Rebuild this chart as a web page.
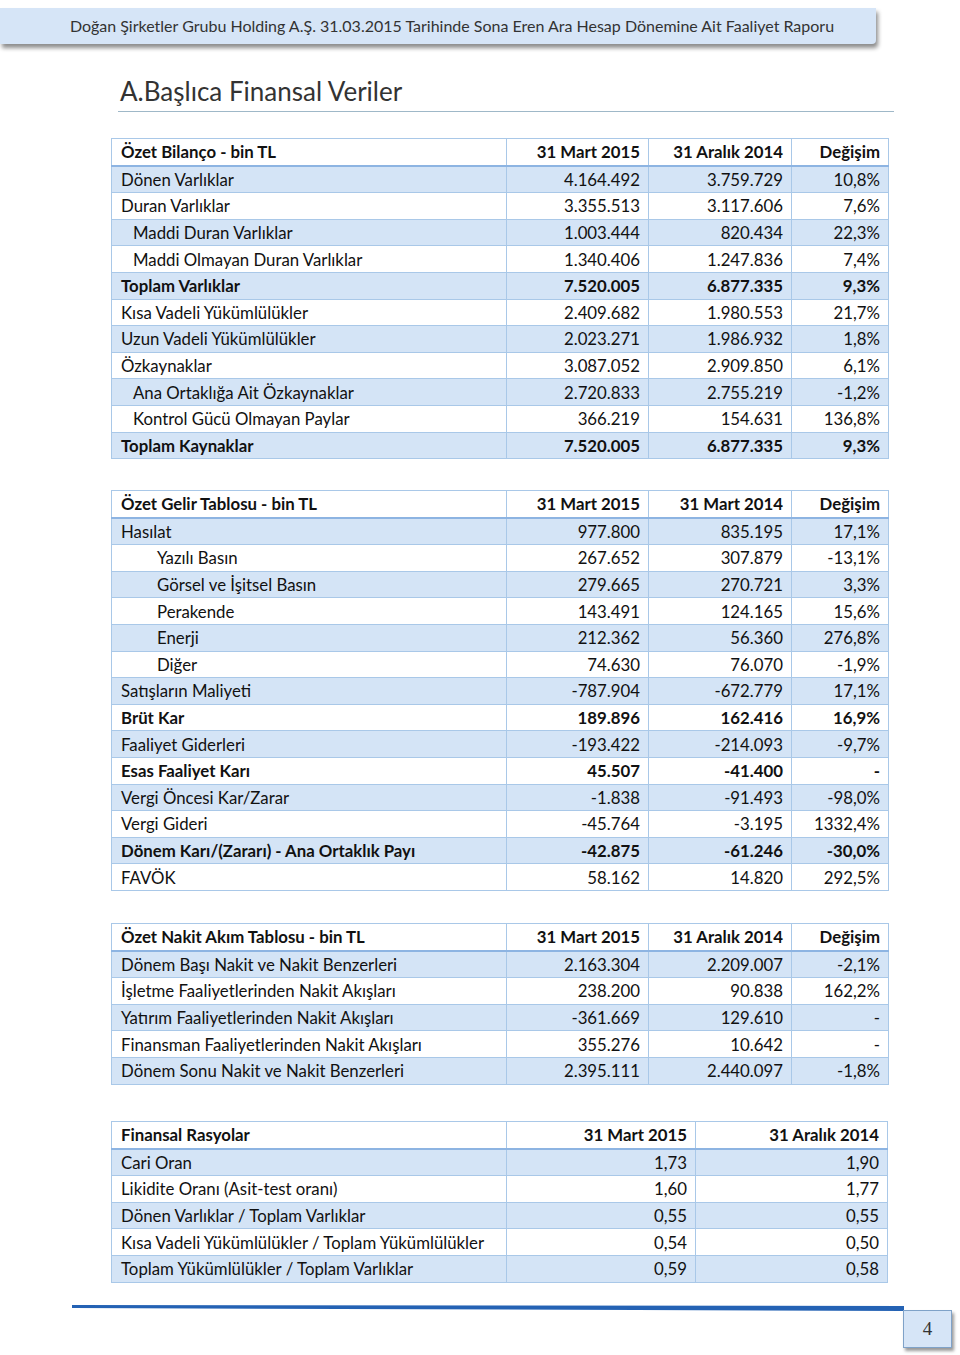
<!DOCTYPE html>
<html lang="tr">
<head>
<meta charset="UTF-8">
<title>Başlıca Finansal Veriler</title>
<script src="https://cdn.jsdelivr.net/npm/chart.js"></script>
<style>
  body { margin: 0; width: 960px; height: 1355px; background: #fff; font-family: Lato, "Open Sans", sans-serif; color: #111; position: relative; overflow: hidden; }
  .topbar { position: absolute; left: 0; top: 8px; width: 876px; height: 36px; background: #d6e5f7; box-shadow: 2px 4px 4px rgba(0,0,0,0.45); border-radius: 0 0 4px 0; text-align: center; line-height: 36px; font-size: 16px; color: #333; box-sizing: border-box; padding-left: 28px; }
  .title { position: absolute; left: 120px; top: 75px; font-size: 26px; color: #333; }
  .title-line { position: absolute; left: 118px; top: 111px; width: 776px; height: 1px; background: #9fb8c8; }
  table { position: absolute; left: 111px; border-collapse: collapse; font-size: 16.8px; }
  td { border: 1px solid #a9c8e8; height: 25.6px; padding: 0 8px 0 9px; white-space: nowrap; }
  tr.head td { font-weight: bold; background: #fff; border-bottom: 2px solid #8db4e2; }
  tr.shade td { background: #d4e4f6; }
  tr.bold td { font-weight: bold; }
  td.num { text-align: right; }
  .ind1 { padding-left: 21px; }
  .ind2 { padding-left: 45px; }
  .bottom-line { position: absolute; left: 72px; top: 1304px; width: 832px; height: 8px; background: #2462b4; clip-path: polygon(0 1px, 100% 2px, 100% 7px, 0 4px); }
  .pagebox { position: absolute; left: 903px; top: 1310px; width: 47px; height: 36px; background: #d6e5f7; border: 1px solid #7fa2c8; box-shadow: 2px 3px 3px rgba(0,0,0,0.4); text-align: center; line-height: 36px; font-family: "Liberation Serif", serif; font-size: 19px; color: #333; }
</style>
</head>
<body>
<div class="topbar">Doğan Şirketler Grubu Holding A.Ş. 31.03.2015 Tarihinde Sona Eren Ara Hesap Dönemine Ait Faaliyet Raporu</div>
<div class="title">A.Başlıca Finansal Veriler</div>
<div class="title-line"></div>

<table id="t1" style="top:138px"></table>
<table id="t2" style="top:490px"></table>
<table id="t3" style="top:923px"></table>
<table id="t4" style="top:1121px"></table>

<div class="bottom-line"></div>
<div class="pagebox">4</div>

<script>
// Özet Bilanço
const bilancoHeader = ["Özet Bilanço - bin TL", "31 Mart 2015", "31 Aralık 2014", "Değişim"];
const bilancoLabels = ["Dönen Varlıklar", "Duran Varlıklar", "Maddi Duran Varlıklar", "Maddi Olmayan Duran Varlıklar", "Toplam Varlıklar", "Kısa Vadeli Yükümlülükler", "Uzun Vadeli Yükümlülükler", "Özkaynaklar", "Ana Ortaklığa Ait Özkaynaklar", "Kontrol Gücü Olmayan Paylar", "Toplam Kaynaklar"];
const bilancoIndent = [0, 0, 1, 1, 0, 0, 0, 0, 1, 1, 0];
const bilancoBold = [false, false, false, false, true, false, false, false, false, false, true];
const bilanco2015 = ["4.164.492", "3.355.513", "1.003.444", "1.340.406", "7.520.005", "2.409.682", "2.023.271", "3.087.052", "2.720.833", "366.219", "7.520.005"];
const bilanco2014 = ["3.759.729", "3.117.606", "820.434", "1.247.836", "6.877.335", "1.980.553", "1.986.932", "2.909.850", "2.755.219", "154.631", "6.877.335"];
const bilancoChange = ["10,8%", "7,6%", "22,3%", "7,4%", "9,3%", "21,7%", "1,8%", "6,1%", "-1,2%", "136,8%", "9,3%"];

// Özet Gelir Tablosu
const gelirHeader = ["Özet Gelir Tablosu - bin TL", "31 Mart 2015", "31 Mart 2014", "Değişim"];
const gelirLabels = ["Hasılat", "Yazılı Basın", "Görsel ve İşitsel Basın", "Perakende", "Enerji", "Diğer", "Satışların Maliyeti", "Brüt Kar", "Faaliyet Giderleri", "Esas Faaliyet Karı", "Vergi Öncesi Kar/Zarar", "Vergi Gideri", "Dönem Karı/(Zararı) - Ana Ortaklık Payı", "FAVÖK"];
const gelirIndent = [0, 2, 2, 2, 2, 2, 0, 0, 0, 0, 0, 0, 0, 0];
const gelirBold = [false, false, false, false, false, false, false, true, false, true, false, false, true, false];
const gelir2015 = ["977.800", "267.652", "279.665", "143.491", "212.362", "74.630", "-787.904", "189.896", "-193.422", "45.507", "-1.838", "-45.764", "-42.875", "58.162"];
const gelir2014 = ["835.195", "307.879", "270.721", "124.165", "56.360", "76.070", "-672.779", "162.416", "-214.093", "-41.400", "-91.493", "-3.195", "-61.246", "14.820"];
const gelirChange = ["17,1%", "-13,1%", "3,3%", "15,6%", "276,8%", "-1,9%", "17,1%", "16,9%", "-9,7%", "-", "-98,0%", "1332,4%", "-30,0%", "292,5%"];

// Özet Nakit Akım Tablosu
const nakitHeader = ["Özet Nakit Akım Tablosu - bin TL", "31 Mart 2015", "31 Aralık 2014", "Değişim"];
const nakitLabels = ["Dönem Başı Nakit ve Nakit Benzerleri", "İşletme Faaliyetlerinden Nakit Akışları", "Yatırım Faaliyetlerinden Nakit Akışları", "Finansman Faaliyetlerinden Nakit Akışları", "Dönem Sonu Nakit ve Nakit Benzerleri"];
const nakit2015 = ["2.163.304", "238.200", "-361.669", "355.276", "2.395.111"];
const nakit2014 = ["2.209.007", "90.838", "129.610", "10.642", "2.440.097"];
const nakitChange = ["-2,1%", "162,2%", "-", "-", "-1,8%"];

// Finansal Rasyolar
const rasyoHeader = ["Finansal Rasyolar", "31 Mart 2015", "31 Aralık 2014"];
const rasyoLabels = ["Cari Oran", "Likidite Oranı (Asit-test oranı)", "Dönen Varlıklar / Toplam Varlıklar", "Kısa Vadeli Yükümlülükler / Toplam Yükümlülükler", "Toplam Yükümlülükler / Toplam Varlıklar"];
const rasyo2015 = ["1,73", "1,60", "0,55", "0,54", "0,59"];
const rasyo2014 = ["1,90", "1,77", "0,55", "0,50", "0,58"];

function buildTable(id, widths, header, labels, cols, indent, bold) {
    const table = document.getElementById(id);
    let html = '<tr class="head">';
    header.forEach((h, i) => {
        html += '<td style="width:' + widths[i] + 'px"' + (i > 0 ? ' class="num"' : '') + '>' + h + '</td>';
    });
    html += '</tr>';
    labels.forEach((label, r) => {
        const cls = [];
        if (r % 2 === 0) cls.push('shade');
        if (bold && bold[r]) cls.push('bold');
        const lvl = indent ? indent[r] : 0;
        html += '<tr class="' + cls.join(' ') + '">';
        html += '<td' + (lvl ? ' class="ind' + lvl + '"' : '') + '>' + label + '</td>';
        cols.forEach(c => { html += '<td class="num">' + c[r] + '</td>'; });
        html += '</tr>';
    });
    table.innerHTML = html;
}

const w4 = [377, 124, 125, 79];
buildTable("t1", w4, bilancoHeader, bilancoLabels, [bilanco2015, bilanco2014, bilancoChange], bilancoIndent, bilancoBold);
buildTable("t2", w4, gelirHeader, gelirLabels, [gelir2015, gelir2014, gelirChange], gelirIndent, gelirBold);
buildTable("t3", w4, nakitHeader, nakitLabels, [nakit2015, nakit2014, nakitChange]);
buildTable("t4", [377, 171, 174], rasyoHeader, rasyoLabels, [rasyo2015, rasyo2014]);
</script>
</body>
</html>
